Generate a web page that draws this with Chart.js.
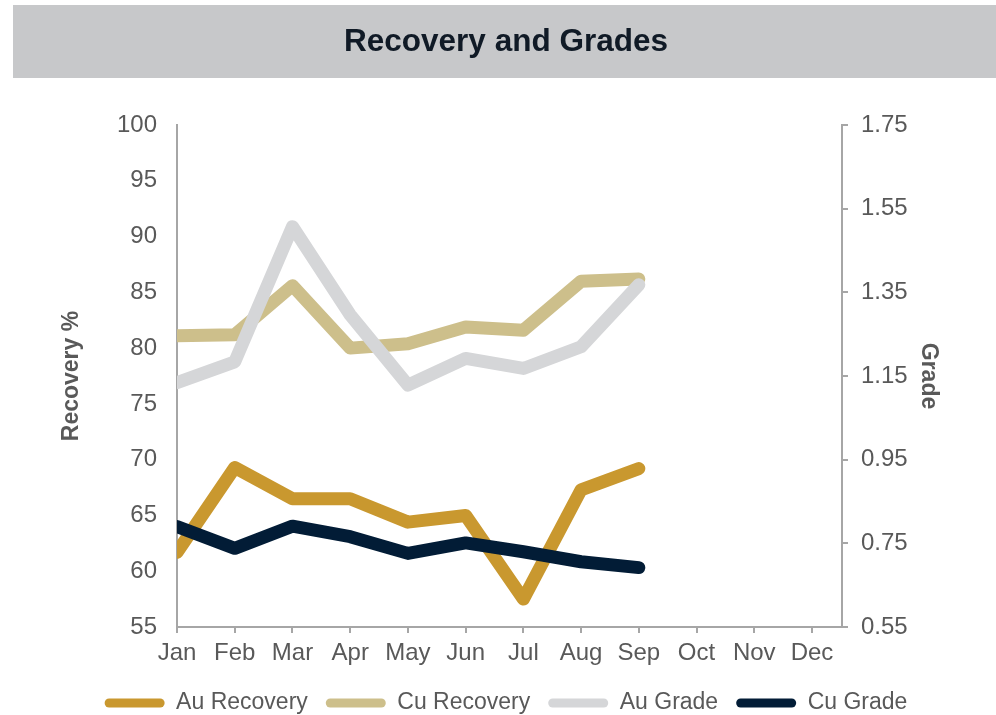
<!DOCTYPE html>
<html>
<head>
<meta charset="utf-8">
<script src="https://cdn.jsdelivr.net/npm/chart.js@4/dist/chart.umd.min.js"></script>
<style>
html,body{margin:0;padding:0;background:#ffffff;}
#wrap{width:996px;height:715px;position:relative;}
</style>
</head>
<body>
<div id="wrap"><canvas id="c" width="996" height="715"></canvas></div>
<script>
const months = ['Jan','Feb','Mar','Apr','May','Jun','Jul','Aug','Sep','Oct','Nov','Dec'];
const auRecovery = [61.7, 69.3, 66.5, 66.5, 64.4, 65.0, 57.5, 67.3, 69.2];
const cuRecovery = [81.1, 81.2, 85.6, 80.0, 80.4, 81.9, 81.6, 86.0, 86.2];
const auGrade = [1.134, 1.184, 1.507, 1.296, 1.128, 1.192, 1.168, 1.220, 1.368];
const cuGrade = [0.790, 0.738, 0.791, 0.766, 0.726, 0.751, 0.730, 0.706, 0.692];
const recoveryTicks = [55, 60, 65, 70, 75, 80, 85, 90, 95, 100];
const gradeTicks = [0.55, 0.75, 0.95, 1.15, 1.35, 1.55, 1.75];

const FONT = '"Liberation Sans", Arial, sans-serif';
const TXT = '#595959';
const AXIS = '#A6A6A6';

const toXY = arr => arr.map((y, i) => ({x: i, y: y}));

const bandPlugin = {
  id: 'band',
  beforeDraw(chart) {
    const ctx = chart.ctx;
    const t = chart.titleBlock;
    ctx.save();
    ctx.fillStyle = '#C7C8CA';
    ctx.fillRect(13, t.top, chart.width - 13, 73);
    ctx.restore();
  }
};

function ds(label, data, color, axis, order) {
  return {
    label: label,
    data: toXY(data),
    borderColor: color,
    backgroundColor: color,
    borderWidth: 13,
    borderCapStyle: 'round',
    borderJoinStyle: 'round',
    pointRadius: 0,
    pointHoverRadius: 0,
    tension: 0,
    fill: false,
    yAxisID: axis,
    order: order
  };
}

new Chart(document.getElementById('c'), {
  type: 'line',
  data: {
    datasets: [
      ds('Au Recovery', auRecovery, '#C9982F', 'yL', 3),
      ds('Cu Recovery', cuRecovery, '#CDBF8B', 'yL', 2),
      ds('Au Grade', auGrade, '#D5D6D8', 'yR', 1),
      ds('Cu Grade', cuGrade, '#021C36', 'yR', 0)
    ]
  },
  options: {
    responsive: false,
    animation: false,
    devicePixelRatio: 1,
    layout: {padding: {top: 5, left: 16, right: 0, bottom: 0}},
    plugins: {
      tooltip: {enabled: false},
      title: {
        display: true,
        text: 'Recovery and Grades',
        color: '#101A26',
        font: {family: FONT, size: 31.5, weight: 'bold'},
        padding: {top: 18, bottom: 64.2}
      },
      legend: {
        position: 'bottom',
        maxHeight: 41.5,
        labels: {
          font: {family: FONT, size: 23},
          color: TXT,
          boxWidth: 60,
          boxHeight: 9,
          useBorderRadius: true,
          borderRadius: 4.5,
          padding: 18,
          sort: (a, b) => a.datasetIndex - b.datasetIndex,
          generateLabels(chart) {
            const items = Chart.defaults.plugins.legend.labels.generateLabels(chart);
            items.forEach(it => { it.fillStyle = it.strokeStyle; it.lineWidth = 0; });
            return items;
          }
        }
      }
    },
    scales: {
      x: {
        type: 'linear',
        min: 0,
        max: 11.52,
        afterBuildTicks: s => { s.ticks = months.map((m, i) => ({value: i})); },
        ticks: {
          font: {family: FONT, size: 24},
          color: TXT,
          padding: 5.85,
          maxRotation: 0,
          autoSkip: false,
          callback: v => months[v]
        },
        grid: {display: true, drawOnChartArea: false, drawTicks: true, tickLength: 6, color: AXIS, lineWidth: 2},
        border: {display: true, color: AXIS, width: 2}
      },
      yL: {
        type: 'linear',
        position: 'left',
        min: 55,
        max: 100,
        afterBuildTicks: s => { s.ticks = recoveryTicks.map(v => ({value: v})); },
        ticks: {font: {family: FONT, size: 24}, color: TXT, padding: 20},
        grid: {display: false, drawTicks: false, tickLength: 0},
        border: {display: true, color: AXIS, width: 2},
        title: {
          display: true,
          text: 'Recovery %',
          color: TXT,
          font: {family: FONT, size: 23, weight: 'bold'},
          padding: {top: 42, bottom: 11.4}
        }
      },
      yR: {
        type: 'linear',
        position: 'right',
        min: 0.55,
        max: 1.75,
        afterBuildTicks: s => { s.ticks = gradeTicks.map(v => ({value: v})); },
        ticks: {font: {family: FONT, size: 24}, color: TXT, padding: 13, callback: v => v.toFixed(2)},
        grid: {display: true, drawOnChartArea: false, drawTicks: true, tickLength: 6, color: AXIS, lineWidth: 2},
        border: {display: true, color: AXIS, width: 2},
        title: {
          display: true,
          text: 'Grade',
          color: TXT,
          font: {family: FONT, size: 23, weight: 'bold'},
          padding: {top: 54, bottom: -6.3}
        }
      }
    }
  },
  plugins: [bandPlugin]
});
</script>
</body>
</html>
